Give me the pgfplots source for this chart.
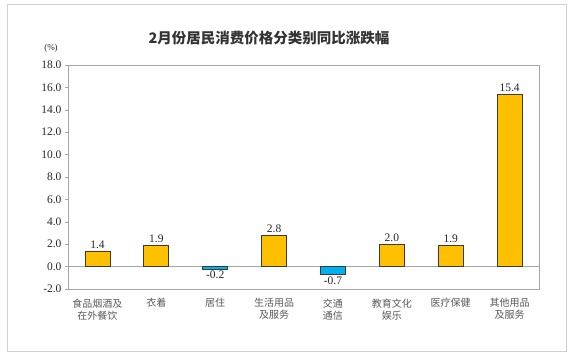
\documentclass[border=0pt]{standalone}
\usepackage{pgfplots}
\pgfplotsset{compat=1.18}
\usepackage{fontspec}
\setmainfont{Liberation Serif}
\newfontfamily\cjk{Noto Sans CJK SC}
\definecolor{baryellow}{HTML}{FFC000}
\definecolor{barblue}{HTML}{00B0F0}
\definecolor{edgecol}{HTML}{3A3A3A}
\definecolor{axgray}{HTML}{A6A6A6}
\begin{document}
\begin{tikzpicture}[x=1pt,y=1pt]
\path (0pt,0pt) rectangle (575pt,358pt);
\draw[color=black!18, line width=1pt] (7pt,6pt) rectangle (566pt,353pt);
\node[font=\cjk\bfseries\fontsize{14.5}{16}\selectfont, text=black!80] at (269pt,320pt) {2月份居民消费价格分类别同比涨跌幅};
\node[font=\fontsize{9}{10}\selectfont, text=black!85] at (51pt,310pt) {(\%)};
\begin{axis}[
  at={(68pt,69pt)}, anchor=south west,
  scale only axis, width=471pt, height=224pt,
  ymin=-2, ymax=18, ytick={-2,0,...,18},
  xmin=-0.5, xmax=7.5,
  xtick={0,...,7},
  xticklabels={{食品烟酒及\\在外餐饮},{衣着},{居住},{生活用品\\及服务},{交通\\通信},{教育文化\\娱乐},{医疗保健},{其他用品\\及服务}},
  xticklabel style={font=\cjk\fontsize{10}{12}\selectfont, align=center, text=black!65, anchor=north, yshift=-3pt},
  major x tick style={draw=none},
  ytick pos=left,
  tick align=outside,
  major tick length=3pt,
  y tick style={color=axgray},
  axis line style={color=axgray},
  yticklabel style={font=\fontsize{11.5}{13}\selectfont, text=black!85},
  /pgf/number format/assume math mode=true,
  /pgf/number format/fixed, /pgf/number format/fixed zerofill, /pgf/number format/precision=1,
  extra y ticks={0}, extra y tick labels={},
  extra y tick style={grid=major, major grid style={color=axgray, line width=0.6pt}, major tick length=0pt},
  ybar, bar width=25pt,
  nodes near coords,
  every node near coord/.append style={font=\fontsize{11.5}{13}\selectfont, text=black!85, inner sep=2pt, /pgf/number format/fixed, /pgf/number format/fixed zerofill, /pgf/number format/precision=1},
  clip=false,
]
\addplot[bar shift=0pt, fill=baryellow, draw=edgecol, line width=0.7pt,
  nodes near coords style={anchor=south}] coordinates {(0,1.4) (1,1.9) (3,2.8) (5,2.0) (6,1.9) (7,15.4)};
\addplot[bar shift=0pt, fill=barblue, draw=edgecol, line width=0.5pt,
  nodes near coords style={anchor=north}] coordinates {(2,-0.2) (4,-0.7)};
\end{axis}
\end{tikzpicture}
\end{document}
